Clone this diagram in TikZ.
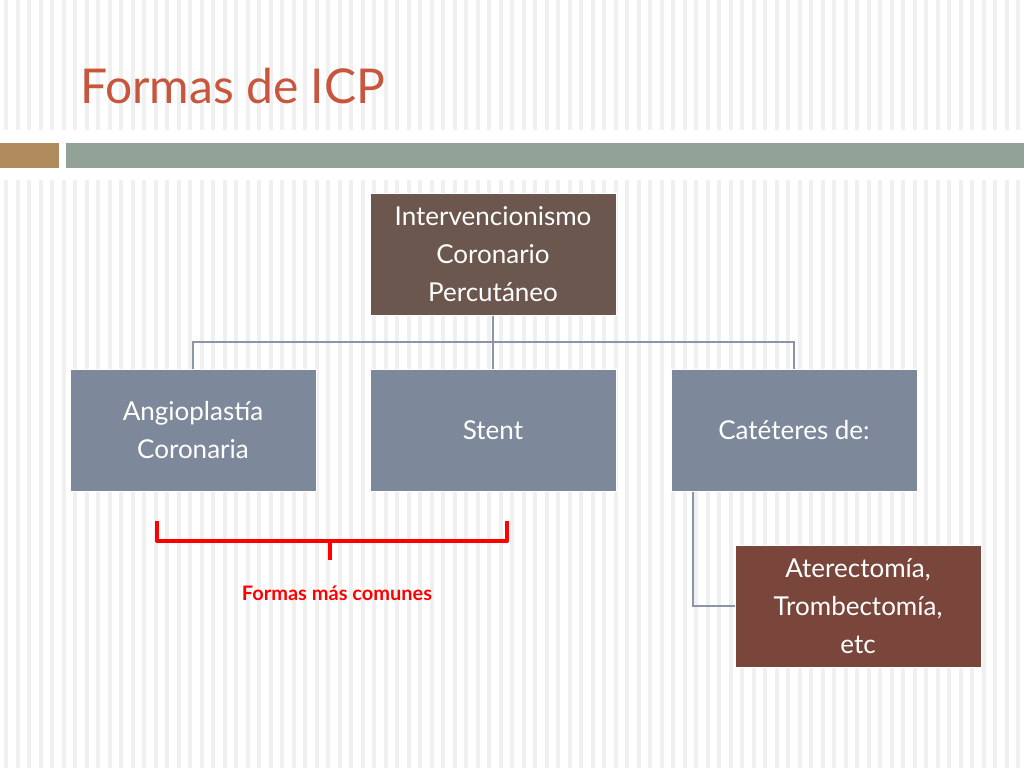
\documentclass[tikz,border=0pt]{standalone}
\usepackage{fontspec}
\setmainfont{Lato}
\definecolor{titlered}{HTML}{C8553D}
\definecolor{bartan}{HTML}{B08B5E}
\definecolor{bargreen}{HTML}{93A298}
\definecolor{topbrown}{HTML}{6B574D}
\definecolor{midblue}{HTML}{7D889A}
\definecolor{leafred}{HTML}{7A463B}
\definecolor{linkblue}{HTML}{8A96A8}
\begin{document}
\begin{tikzpicture}[x=1pt,y=-1pt,
    box/.style={draw=white,line width=1pt,text=white,align=center,
      minimum width=246pt,minimum height=122pt,inner sep=2pt,font=\fontsize{26}{38}\selectfont},
    link/.style={draw=linkblue,line width=1.6pt}]

    % Background and stripes
    \fill[white] (0,0) rectangle (1024,768);
    \foreach \x in {4,15.5,...,1024} {
      \fill[gray!12] (\x,0) rectangle ++(4,768);
    }
    \fill[white] (0,130) rectangle (1024,180);

    % Title and bars
    \node[anchor=base west,text=titlered,font=\fontsize{48}{56}\selectfont,inner sep=0pt] (title) at (80,103) {Formas de ICP};
    \fill[bartan] (0,143) rectangle (59,168);
    \fill[bargreen] (66,143) rectangle (1024,168);

    % Boxes
    \node[box,fill=topbrown] (icp) at (493,254) {Intervencionismo\\Coronario\\Percutáneo};
    \node[box,fill=midblue] (angio) at (193,430) {Angioplastía\\Coronaria};
    \node[box,fill=midblue] (stent) at (493,430) {Stent};
    \node[box,fill=midblue] (cat) at (794,430) {Catéteres de:};
    \node[box,fill=leafred] (ater) at (858,606) {Aterectomía,\\Trombectomía,\\etc};

    % Connectors
    \coordinate (hub) at (493,342);
    \draw[link] (icp.south) -- (hub);
    \foreach \n in {angio,stent,cat} {
      \draw[link] (hub) -| (\n.north);
    }
    \draw[link] ([xshift=-101pt]cat.south) |- (ater.west);

    % Bracket
    \draw[red,line width=4pt,line join=round] (157,521) -- (157,541) -- (507,541) -- (507,521);
    \draw[red,line width=4pt] (330,541) -- (330,560);
    \node[text=red,font=\bfseries\fontsize{20}{24}\selectfont] (common) at (337,593) {Formas más comunes};
\end{tikzpicture}
\end{document}
